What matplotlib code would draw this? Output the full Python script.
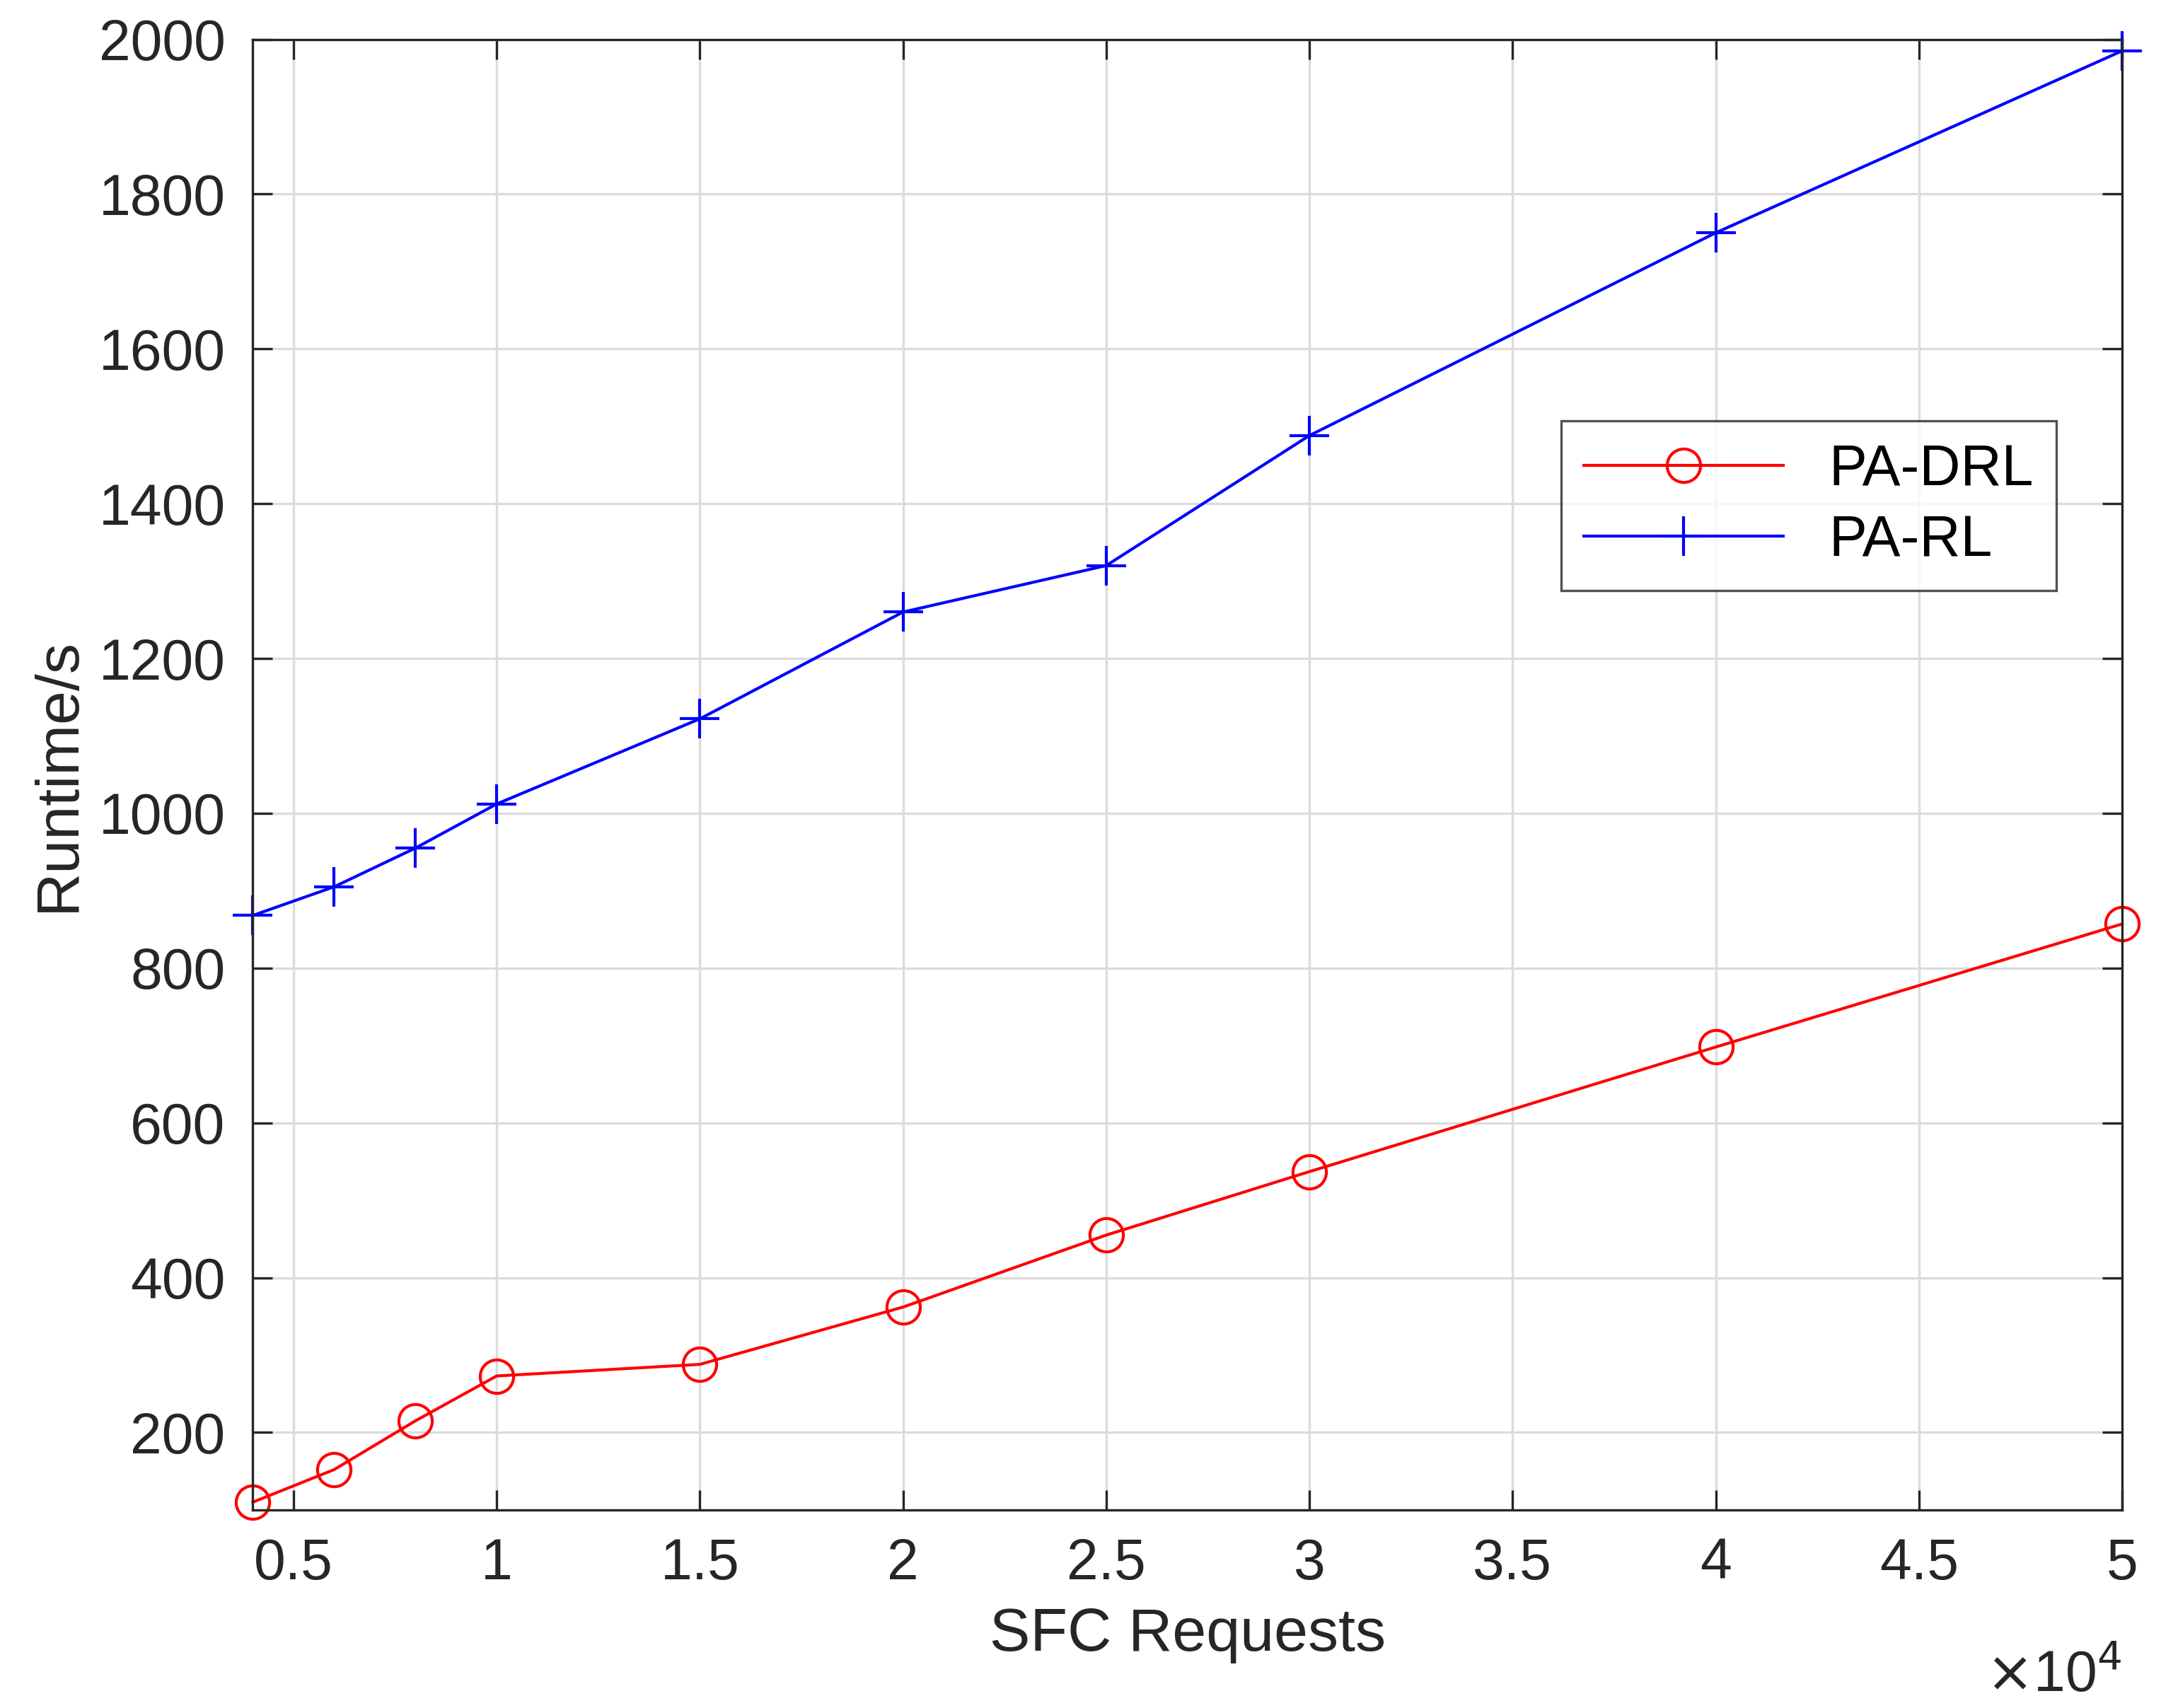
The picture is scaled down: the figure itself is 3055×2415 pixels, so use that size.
import matplotlib.pyplot as plt
from matplotlib.ticker import FuncFormatter, MultipleLocator

plt.rcParams['font.family'] = ['Liberation Sans', 'DejaVu Sans']

# SFC request counts and runtimes
requests = [4000, 6000, 8000, 10000, 15000, 20000, 25000, 30000, 40000, 50000]
pa_drl = [110, 152, 215, 273, 288, 362, 455, 537, 698, 857]
pa_rl = [868, 905, 955, 1012, 1122, 1260, 1320, 1488, 1750, 1985]

fig = plt.figure(figsize=(15.275, 12.075), dpi=200)
ax = fig.add_axes([0.117, 0.116, 0.865, 0.861])

ax.plot(requests, pa_drl, color='red', marker='o', markersize=17, markerfacecolor='none',
        markeredgewidth=1.5, linewidth=1.5, label='PA-DRL', clip_on=False)
ax.plot(requests, pa_rl, color='blue', marker='+', markersize=20, markeredgewidth=1.5,
        linewidth=1.5, label='PA-RL', clip_on=False)

ax.set_xlim(4000, 50000)
ax.set_ylim(100, 2000)
ax.xaxis.set_major_locator(MultipleLocator(5000))
ax.yaxis.set_major_locator(MultipleLocator(200))
ax.xaxis.set_major_formatter(FuncFormatter(lambda v, p: f'{v / 1e4:g}'))
ax.tick_params(direction='in', top=True, right=True, length=10, width=1.2,
               labelsize=29, pad=14, colors='#262626')
ax.grid(True, color='#dcdcdc', linewidth=1.2)
for s in ax.spines.values():
    s.set_linewidth(1.2)
    s.set_color('#262626')

ax.set_xlabel('SFC Requests', fontsize=31, color='#262626', labelpad=8)
ax.set_ylabel('Runtime/s', fontsize=31, color='#262626', labelpad=6)
ax.text(1.0, -0.095, r'$\times$10$^4$', transform=ax.transAxes, ha='right', va='top',
        fontsize=29, color='#262626')

leg = ax.legend(loc='upper right', bbox_to_anchor=(0.98, 0.76), fontsize=29,
                fancybox=False, edgecolor='#262626', handlelength=3.5, borderpad=0.4,
                labelspacing=0.3)
leg.get_frame().set_linewidth(1.2)

fig.savefig('out.png', dpi=200)
